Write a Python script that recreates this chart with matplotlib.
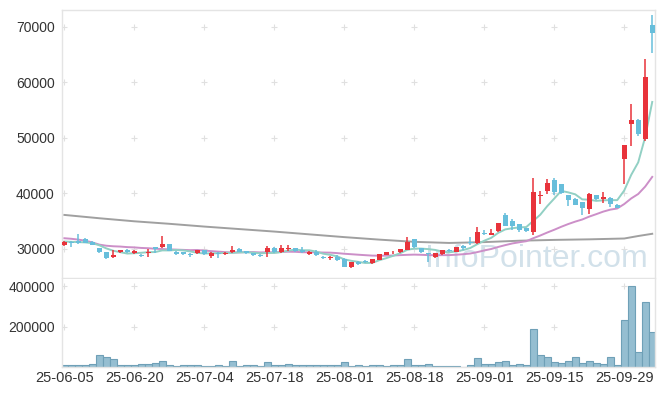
import numpy as np
import pandas as pd
import matplotlib
matplotlib.use('Agg')
import matplotlib.pyplot as plt

# x tick labels, one every 10 trading days
tick_labels = ['25-06-05', '25-06-20', '25-07-04', '25-07-18', '25-08-01',
               '25-08-18', '25-09-01', '25-09-15', '25-09-29']

opens = [30700, 31200, 31400, 31800, 31250, 30050, 29450, 28450, 29450, 29700,
         29300, 28950, 29250, 30250, 30300, 30800, 29450, 29350, 29100, 29150,
         29700, 28750, 29300, 29000, 29350, 29950, 29550, 29150, 28950, 29350,
         30050, 29350, 29950, 30050, 29800, 29050, 29400, 28600, 28250, 28550,
         28200, 26700, 27550, 27800, 27400, 28000, 28900, 29350, 29350, 29850,
         31700, 30150, 29100, 28500, 29050, 29800, 29500, 30550, 31250, 31050,
         32800, 32450, 33150, 36000, 35050, 34450, 33750, 32950, 39500, 40400,
         42350, 41600, 39650, 39050, 38400, 37250, 39600, 39000, 39200, 37950,
         46200, 52400, 53200, 49750, 70350]
highs = [31450, 31400, 32650, 31900, 31350, 30200, 29500, 29750, 29850, 30000,
         29850, 29050, 29900, 30300, 32350, 30950, 29600, 29450, 29250, 29800,
         29800, 29350, 29400, 29400, 30550, 30050, 29650, 29250, 29050, 30500,
         30350, 30600, 30600, 30100, 30400, 29550, 29700, 28700, 28700, 28800,
         28300, 27700, 27800, 27900, 28200, 29100, 29450, 29600, 30000, 32100,
         31800, 30200, 29200, 29300, 29750, 30000, 30300, 30600, 32050, 33950,
         33300, 33600, 34700, 36400, 35400, 34500, 33800, 42800, 40400, 42500,
         42800, 41650, 39700, 39100, 38450, 40050, 39650, 40250, 39250, 38000,
         48650, 56100, 53400, 64200, 72200]
lows = [30500, 30400, 30800, 31000, 30600, 29300, 28100, 28350, 29150, 29200,
        29050, 28500, 28600, 29200, 30200, 29550, 28950, 28900, 28600, 29050,
        28950, 28250, 28300, 28850, 29250, 29400, 29100, 28750, 28600, 28500,
        29300, 29250, 29650, 29450, 29300, 28950, 28750, 28150, 27950, 27800,
        26650, 26600, 27050, 27400, 27300, 27900, 28800, 29100, 29200, 29800,
        30200, 29300, 27700, 28400, 28950, 29500, 29450, 29700, 30700, 30950,
        32400, 32400, 33100, 34100, 33300, 33100, 33100, 32500, 38000, 39950,
        39750, 39950, 37650, 37900, 36150, 36350, 38700, 38250, 37600, 37300,
        41700, 48600, 50400, 49400, 65300]
closes = [31250, 31050, 31000, 31050, 30700, 29350, 28250, 28850, 29800, 29450,
          29650, 28650, 29400, 29900, 30950, 29600, 29100, 29000, 28950, 29700,
          29000, 29250, 29100, 29250, 29700, 29450, 29300, 28800, 28650, 30050,
          29450, 30050, 30150, 29600, 29400, 29450, 28850, 28250, 28600, 28050,
          26700, 27550, 27300, 27600, 28150, 29100, 29400, 29450, 29950, 31150,
          30250, 29350, 29000, 29200, 29700, 29550, 30250, 30150, 31050, 33100,
          32700, 32850, 34650, 34150, 34150, 33450, 33150, 40200, 39700, 41900,
          40250, 40100, 38850, 37950, 37350, 39950, 39050, 39350, 38100, 37350,
          48650, 53150, 50600, 61000, 68850]
volumes = [11000, 11000, 11000, 11000, 15000, 59000, 49000, 39000, 10000, 10000,
           10000, 15000, 15000, 19000, 29000, 10000, 5000, 10000, 10000, 10000,
           5000, 5000, 10000, 5000, 29000, 5000, 10000, 10000, 5000, 24000,
           10000, 10000, 15000, 10000, 10000, 10000, 10000, 10000, 10000, 10000,
           24000, 5000, 10000, 5000, 10000, 10000, 5000, 10000, 10000, 39000,
           10000, 10000, 15000, 5000, 5000, 5000, 5000, 2000, 10000, 44000,
           15000, 15000, 24000, 29000, 10000, 15000, 10000, 187000, 59000, 49000,
           24000, 19000, 29000, 49000, 19000, 29000, 19000, 15000, 49000, 10000,
           232000, 400000, 75000, 320000, 174000]

ma5_head = [31300, 31250, 31200, 31150]
ma20_head = [31900, 31800, 31650, 31450, 31150, 30750, 30550, 30450, 30400, 30300,
             30250, 30150, 30100, 30000, 29950, 29900, 29850, 29800, 29750]
# long moving average (gray), read every 5 bars
ma_long_x = [0, 5, 10, 15, 20, 25, 30, 35, 40, 45, 50, 55, 60, 65, 70, 75, 80, 82, 84]
ma_long = [36100, 35500, 34950, 34500, 34000, 33550, 33100, 32600, 32100, 31650,
           31250, 31050, 31200, 31450, 31600, 31700, 31850, 32300, 32700]

n = len(closes)
x = np.arange(n)
close_s = pd.Series(closes, dtype=float)
ma5 = close_s.rolling(5).mean().values
ma5[:4] = ma5_head
ma20 = close_s.rolling(20).mean().values
ma20[:19] = ma20_head

up_col = '#e8333b'
down_col = '#67bedb'
grid_col = '#e0e0e0'
spine_col = '#e4e4e4'
txt_col = '#333333'

fig = plt.figure(figsize=(6.65, 3.96), dpi=100)
ax = fig.add_axes([0.0928, 0.2972, 0.8922, 0.6775])
axv = fig.add_axes([0.0928, 0.0725, 0.8922, 0.2230])

ax.text(0.612, 0.044, 'InfoPointer.com', transform=ax.transAxes, fontsize=23,
        color='#d2e1ea', family='Liberation Sans', ha='left', va='baseline', zorder=0.5)

price_ticks = [30000, 40000, 50000, 60000, 70000]
tick_pos = list(range(0, 81, 10))
for xt in tick_pos:
    ax.plot([xt] * len(price_ticks), price_ticks, ls='none', marker='+', ms=4,
            mew=0.8, color=grid_col, zorder=0.4)
    axv.plot([xt, xt], [200000, 400000], ls='none', marker='+', ms=4,
             mew=0.8, color=grid_col, zorder=0.4)

ax.plot(ma_long_x, ma_long, color='#a0a0a0', lw=1.4, zorder=2)
ax.plot(x, ma20, color='#cc8fc8', lw=1.4, zorder=2)
ax.plot(x, ma5, color='#92d0c4', lw=1.4, zorder=2)

for i in range(n):
    o, h, l, c = opens[i], highs[i], lows[i], closes[i]
    col = up_col if c >= o else down_col
    ax.vlines(i, l, h, color=col, lw=1.1, zorder=3)
    ax.bar(i, max(abs(c - o), 150), bottom=min(o, c), width=0.72, color=col,
           linewidth=0, zorder=3)

axv.bar(x, volumes, width=1.0, color='#95bed1', edgecolor='#6fa0b7', linewidth=0.8)

ax.set_xlim(-0.37, 84.4)
axv.set_xlim(-0.37, 84.4)
ax.set_ylim(24680, 73010)
axv.set_ylim(0, 436000)

ax.set_yticks(price_ticks)
ax.set_xticks(tick_pos)
ax.set_xticklabels([])
axv.set_yticks([200000, 400000])
axv.set_xticks(tick_pos)
axv.set_xticklabels(tick_labels)

for a in (ax, axv):
    a.tick_params(length=0, labelsize=10, labelcolor=txt_col, pad=5)
    for lab in a.get_xticklabels() + a.get_yticklabels():
        lab.set_family('Liberation Sans')
    for s in a.spines.values():
        s.set_color(spine_col)
        s.set_linewidth(1)
axv.spines['top'].set_visible(False)
axv.tick_params(axis='x', pad=3, labelsize=10.5)

fig.savefig('out.png', dpi=100, facecolor='white')
